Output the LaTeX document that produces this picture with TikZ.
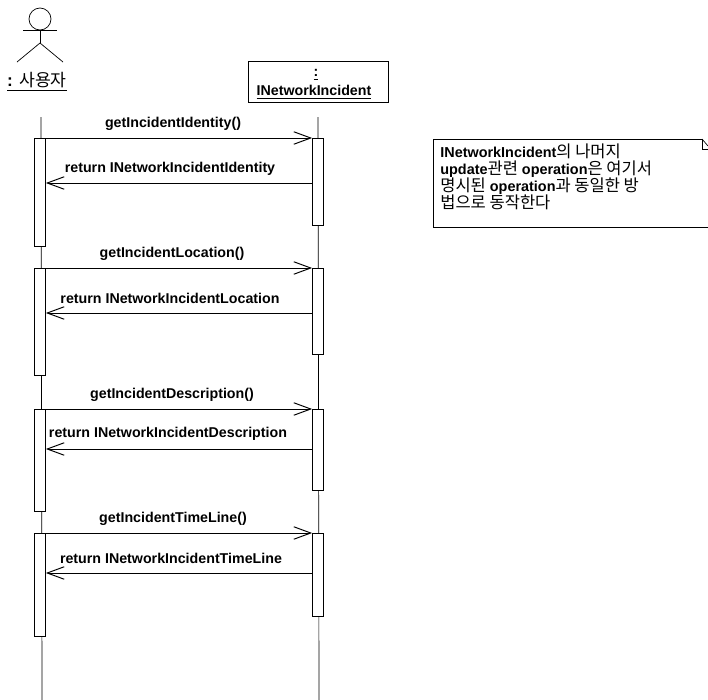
\documentclass[tikz,border=0pt]{standalone}
\usepackage{fontspec}
\setmainfont{Liberation Sans}
\newfontfamily\cjk{Noto Sans CJK KR}
\usetikzlibrary{arrows.meta}

\newcommand{\kor}[1]{{\fontsize{9.4}{9.7}\selectfont\mdseries\cjk #1}}

\tikzset{
    bar/.style={draw, fill=white, minimum width=0.22cm, inner sep=0pt},
    msg/.style={font=\fontsize{8.1}{10}\selectfont\bfseries, inner sep=0pt},
    call/.style={-{Straight Barb[length=0.34cm,width=0.25cm]}, line width=0.55pt}
}

\begin{document}
\begin{tikzpicture}[x=0.02cm,y=-0.02cm]
\useasboundingbox (0,0) rectangle (708,700);

% Actor
\draw (40,19) circle (11);
\draw (23,30.5) -- (57,30.5);
\draw (40,30) -- (40,43);
\draw (40,43) -- (17,62);
\draw (40,43) -- (63,62);
\node[inner sep=0pt, font=\fontsize{9.8}{11}\selectfont\bfseries] (user) at (37,82) {\underline{: {\mdseries\cjk 사용자}}};

% Object box
\node[draw, minimum width=0.02cm*140, minimum height=0.02cm*41, inner sep=0pt] (box) at (318,81.5) {};
\node[msg] (colon) at (316,75) {\underline{:}};
\node[msg] (name) at (314,92) {\underline{INetworkIncident}};

% Lifelines
\coordinate (lifeA) at (41,117);
\coordinate (lifeAend) at (42,700);
\coordinate (lifeB) at (318,117);
\coordinate (lifeBend) at (319,700);
\draw (lifeA) -- (lifeAend);
\draw (lifeB) -- (lifeBend);

% First exchange
\node[bar, minimum height=0.02cm*108, anchor=north] (a1) at (40,138) {};
\node[bar, minimum height=0.02cm*87, anchor=north] (b1) at (318,138) {};
\draw[call] (a1.north east) -- (b1.north west);
\coordinate (r1) at (b1.west |- 0,183);
\draw[call] (r1) -- (a1.east |- r1);
\node[msg] (m1) at (173,124) {getIncidentIdentity()};
\node[msg] (n1) at (170,169) {return INetworkIncidentIdentity};

% Second exchange
\node[bar, minimum height=0.02cm*107, anchor=north] (a2) at (40,268) {};
\node[bar, minimum height=0.02cm*86, anchor=north] (b2) at (318,268) {};
\draw[call] (a2.north east) -- (b2.north west);
\coordinate (r2) at (b2.west |- 0,313);
\draw[call] (r2) -- (a2.east |- r2);
\node[msg] (m2) at (172,254) {getIncidentLocation()};
\node[msg] (n2) at (170,298) {return INetworkIncidentLocation};

% Third exchange
\node[bar, minimum height=0.02cm*102, anchor=north] (a3) at (40,409) {};
\node[bar, minimum height=0.02cm*81, anchor=north] (b3) at (318,409) {};
\draw[call] (a3.north east) -- (b3.north west);
\coordinate (r3) at (b3.west |- 0,449);
\draw[call] (r3) -- (a3.east |- r3);
\node[msg] (m3) at (172,395) {getIncidentDescription()};
\node[msg] (n3) at (168,434) {return INetworkIncidentDescription};

% Fourth exchange
\node[bar, minimum height=0.02cm*103, anchor=north] (a4) at (40,533) {};
\node[bar, minimum height=0.02cm*83, anchor=north] (b4) at (318,533) {};
\draw[call] (a4.north east) -- (b4.north west);
\coordinate (r4) at (b4.west |- 0,573);
\draw[call] (r4) -- (a4.east |- r4);
\node[msg] (m4) at (173,519) {getIncidentTimeLine()};
\node[msg] (n4) at (171,558) {return INetworkIncidentTimeLine};

% Note
\draw (702,139) -- (433,139) -- (433,227) -- (708,227);
\draw (702,139) -- (708,146);
\draw (702,139) -- (702,149) -- (708,149);
\node[msg, anchor=north west, align=left, font=\fontsize{8.2}{9.7}\selectfont\bfseries] (note) at (440,143)
    {INetworkIncident\kor{의 나머지}\\
     update\kor{관련} operation\kor{은 여기서}\\
     \kor{명시된} operation\kor{과 동일한 방}\\
     \kor{법으로 동작한다}};

\end{tikzpicture}
\end{document}
